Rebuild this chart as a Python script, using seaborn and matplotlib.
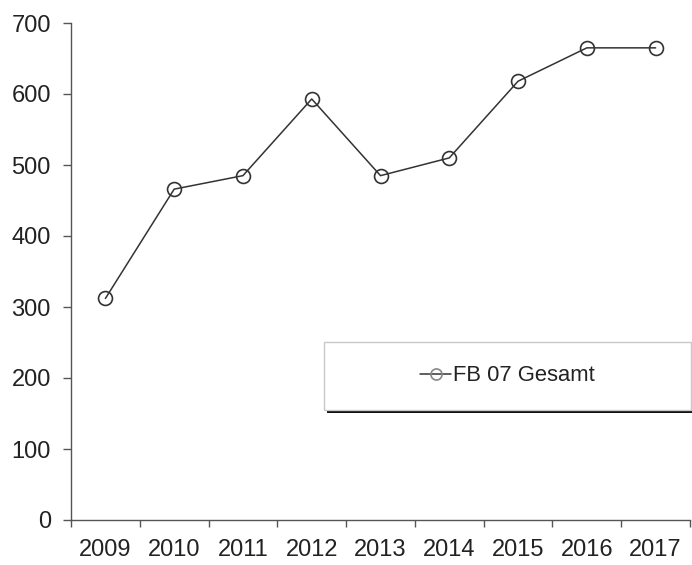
import matplotlib
matplotlib.use("Agg")
import matplotlib.pyplot as plt
from matplotlib.patches import Rectangle
from matplotlib.transforms import ScaledTranslation
import seaborn as sns
import pandas as pd

years = [2009, 2010, 2011, 2012, 2013, 2014, 2015, 2016, 2017]
values = [312, 466, 485, 593, 485, 510, 618, 665, 665]
series_name = "FB 07 Gesamt"
y_ticks = [0, 100, 200, 300, 400, 500, 600, 700]

sns.set_style("white")
plt.rcParams["font.family"] = ["Liberation Sans", "DejaVu Sans"]

df = pd.DataFrame({"Jahr": years, "Wert": values, "Reihe": series_name})

fig = plt.figure(figsize=(6.92, 5.65), dpi=100)
ax = fig.add_axes([71 / 692, 45 / 565, 619 / 692, 497 / 565])

sns.lineplot(data=df, x="Jahr", y="Wert", hue="Reihe", palette=["#333333"],
             marker="o", markersize=10, markerfacecolor="none",
             markeredgecolor="#333333", markeredgewidth=1.2, linewidth=1.1,
             ax=ax)

# category style axis: ticks on the boundaries, labels in the middle
ax.set_xlim(years[0] - 0.5, years[-1] + 0.5)
ax.set_xticks([y - 0.5 for y in years] + [years[-1] + 0.5])
ax.set_xticklabels([])
ax.set_xticks(years, minor=True)
ax.set_xticklabels([str(y) for y in years], minor=True)
ax.tick_params(axis="x", which="major", direction="out", length=5, width=1,
               color="#555555", bottom=True)
ax.tick_params(axis="x", which="minor", length=0, pad=14, labelsize=17,
               labelcolor="#222222")

ax.set_ylim(0, 700)
ax.set_yticks(y_ticks)
ax.tick_params(axis="y", direction="out", length=5.5, width=1,
               color="#555555", left=True, pad=9, labelsize=17,
               labelcolor="#222222")

ax.set_xlabel("")
ax.set_ylabel("")
sns.despine(ax=ax)
for s in ["left", "bottom"]:
    ax.spines[s].set_color("#555555")
    ax.spines[s].set_linewidth(1)

# legend box with a dark drop shadow
bx, by, bw, bh = 0.409, 0.221, 0.593, 0.138
shift = ScaledTranslation(2 / 72, -2 / 72, fig.dpi_scale_trans)
shadow = Rectangle((bx, by), bw, bh, transform=ax.transAxes + shift,
                   facecolor="#111111", edgecolor="none", clip_on=False,
                   zorder=3.9)
box = Rectangle((bx, by), bw, bh, transform=ax.transAxes, facecolor="white",
                edgecolor="#c8c8c8", linewidth=1, clip_on=False, zorder=4)
ax.add_patch(shadow)
ax.add_patch(box)

leg = ax.legend(loc="center", bbox_to_anchor=(bx + bw / 2, by + bh / 2),
                frameon=False, fontsize=15.8, handlelength=1.4,
                handletextpad=0.1)
leg.set_zorder(5)
for t in leg.get_texts():
    t.set_color("#222222")
for h in leg.legend_handles:
    h.set_markersize(8)
    h.set_markeredgecolor("#888888")

fig.savefig("out.png", dpi=100)
